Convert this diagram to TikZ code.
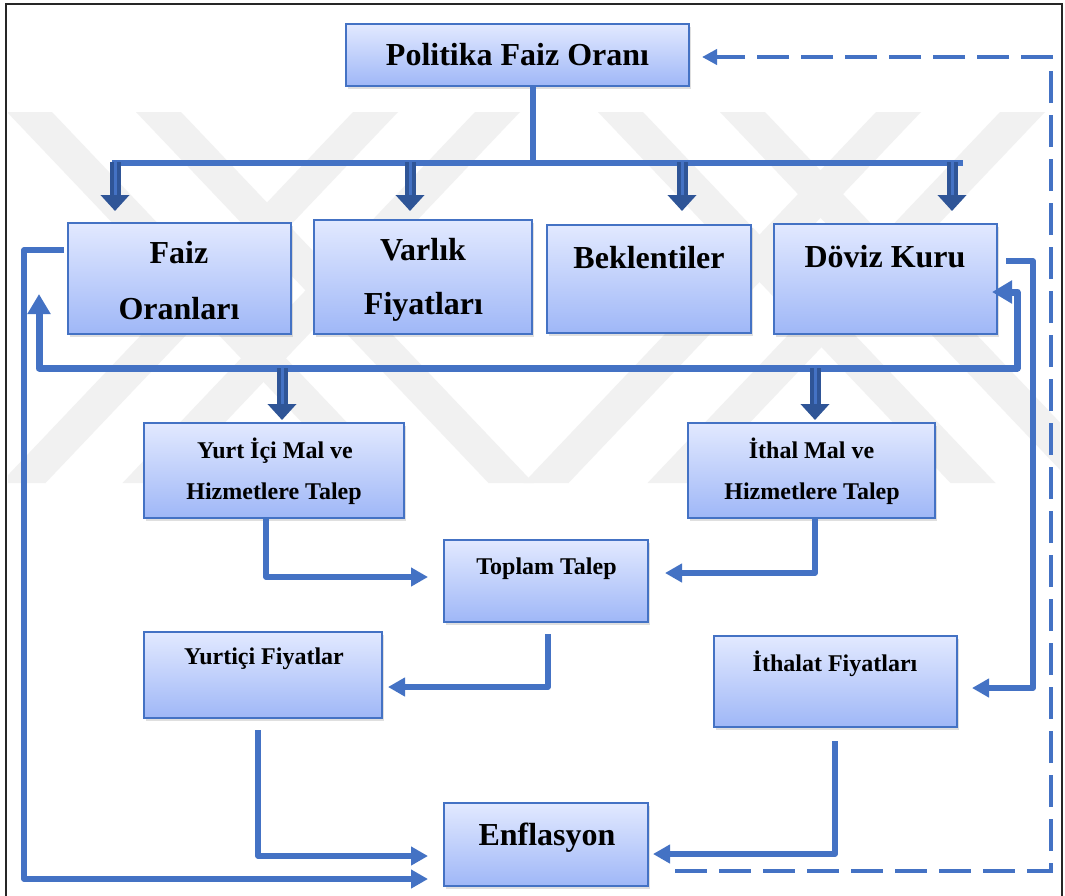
\documentclass[tikz,border=0pt]{standalone}
\usepackage{fontspec}
\setmainfont{Liberation Serif}
\usetikzlibrary{arrows.meta,shadows,calc}
\definecolor{lblue}{HTML}{4472C4}
\definecolor{dblue}{HTML}{2F5597}
\definecolor{ftop}{HTML}{E2E9FF}
\definecolor{fbot}{HTML}{9FB7F7}
\definecolor{wm}{HTML}{F1F1F1}
\tikzset{
  box/.style={draw=lblue, line width=2pt, top color=ftop, bottom color=fbot,
    drop shadow={shadow xshift=1.5pt, shadow yshift=-3pt, opacity=0.25},
    inner sep=0pt, outer sep=0pt},
  bigtxt/.style={font=\fontsize{32}{32}\selectfont\bfseries, inner sep=0pt, anchor=base},
  smalltxt/.style={font=\fontsize{24}{24}\selectfont\bfseries, inner sep=0pt, anchor=base},
  conn/.style={draw=lblue, line width=5.5pt, line join=round, -{Triangle[width=18pt,length=17pt]}},
  biconn/.style={draw=lblue, line width=7pt, line join=round, {Triangle[width=22pt,length=20pt]}-{Triangle[width=22pt,length=20pt]}},
  fatarr/.style={draw=dblue, line width=11pt, -{Triangle[width=28pt,length=16pt]}},
  fatin/.style={draw=lblue, line width=3pt},
  busline/.style={draw=lblue, line width=6pt},
  dashconn/.style={draw=lblue, line width=4pt, dash pattern=on 32pt off 12pt, -{Triangle[width=15pt,length=15pt]}},
  wmband/.style={fill=wm, draw=none},
}
\begin{document}
\begin{tikzpicture}[x=1pt,y=-1pt]
\useasboundingbox (0,0) rectangle (1065,895);
\clip (0,0) rectangle (1065,895);
\fill[white] (0,0) rectangle (1065,895);

% watermark
\begin{scope}
\clip (8,6) rectangle (1060,895);
\foreach \a in {7,136,598,720}{
  \fill[wmband] (\a,112) -- (\a+45,112) -- (\a+397.5,483) -- (\a+352.5,483) -- cycle;}
\foreach \a in {353,475,876,1000}{
  \fill[wmband] (\a,112) -- (\a+45,112) -- (\a-307.5,483) -- (\a-352.5,483) -- cycle;}
\end{scope}

% frame
\draw[black!85, line width=2.2pt] (6,900) -- (6,4) -- (1062,4) -- (1062,900);

% boxes
\node[box, minimum width=343pt, minimum height=62pt] (pfo) at (517.5,55) {};
\node[box, minimum width=223pt, minimum height=111pt] (faiz) at (179.5,278.5) {};
\node[box, minimum width=218pt, minimum height=114pt] (varlik) at (423,277) {};
\node[box, minimum width=204pt, minimum height=108pt] (bek) at (649,279) {};
\node[box, minimum width=223pt, minimum height=110pt] (doviz) at (885.5,279) {};
\node[box, minimum width=260pt, minimum height=95pt] (yurtici) at (274,470.5) {};
\node[box, minimum width=247pt, minimum height=95pt] (ithal) at (811.5,470.5) {};
\node[box, minimum width=204pt, minimum height=82pt] (toplam) at (546,581) {};
\node[box, minimum width=238pt, minimum height=86pt] (yfiy) at (263,675) {};
\node[box, minimum width=243pt, minimum height=91pt] (ifiy) at (835.5,681.5) {};
\node[box, minimum width=204pt, minimum height=83pt] (enf) at (546,844.5) {};

% texts
\node[bigtxt] (tpfo) at (517.5,65) {Politika Faiz Oranı};
\node[bigtxt] (tfaiz1) at (179,263) {Faiz};
\node[bigtxt] (tfaiz2) at (179,319) {Oranları};
\node[bigtxt] (tvar1) at (423,260) {Varlık};
\node[bigtxt] (tvar2) at (423.5,314) {Fiyatları};
\node[bigtxt] (tbek) at (649,268) {Beklentiler};
\node[bigtxt] (tdov) at (885,267) {Döviz Kuru};
\node[smalltxt] (tyi1) at (275,458) {Yurt İçi Mal ve};
\node[smalltxt] (tyi2) at (274,499) {Hizmetlere Talep};
\node[smalltxt] (tit1) at (811.5,458) {İthal Mal ve};
\node[smalltxt] (tit2) at (812,499) {Hizmetlere Talep};
\node[smalltxt] (ttop) at (546.5,574) {Toplam Talep};
\node[smalltxt] (tyf) at (264,664) {Yurtiçi Fiyatlar};
\node[smalltxt] (tif) at (835,671) {İthalat Fiyatları};
\node[bigtxt] (tenf) at (547,845) {Enflasyon};

% coordinates
\coordinate (b1) at (533,163);
\coordinate (b1l) at (112,163);
\coordinate (b1r) at (963,163);
\foreach \x/\n in {115/a1,410/a2,682/a3,952/a4}{
  \coordinate (\n s) at (\x,162);
  \coordinate (\n e) at (\x,211);
  \coordinate (\n m) at (\x,195);}
\coordinate (fbk) at (39,294);
\coordinate (dbk) at (992,292);
\coordinate (b2l) at (39,368);
\coordinate (b2r) at (1017,368);
\foreach \x/\n in {282/c1,815/c2}{
  \coordinate (\n s) at (\x,368);
  \coordinate (\n e) at (\x,420);
  \coordinate (\n m) at (\x,404);}

% top tree
\draw[busline] (pfo.south -| b1) -- (b1);
\draw[busline] (b1l) -- (b1r);
\foreach \n in {a1,a2,a3,a4}{
  \draw[fatarr] (\n s) -- (\n e);
  \draw[fatin] (\n s) -- (\n m);}

% second bus with feedback to Faiz and Döviz
\draw[biconn] (fbk) -- (b2l) -- (b2r |- b2l) -- (b2r |- dbk) -- (dbk);
\foreach \n in {c1,c2}{
  \draw[fatarr] (\n s) -- (\n e);
  \draw[fatin] (\n s) -- (\n m);}

% Faiz -> Enflasyon
\draw[conn] ($(faiz.west)+(-4,-28.5)$) -- (24,250) -- (24,879) -- ($(enf.west)+(-16,34.5)$);
% Doviz -> Ithalat Fiyatlari
\draw[conn] ($(doviz.east)+(9,-18)$) -- (1033,261) -- (1033,688) -- ($(ifiy.east)+(15,6.5)$);
% Yurt ici talep -> Toplam
\draw[conn] ($(yurtici.south)+(-8,0)$) -- (266,577) -- ($(toplam.west)+(-16,-4)$);
% Ithal talep -> Toplam
\draw[conn] ($(ithal.south)+(3.5,0)$) -- (815,573) -- ($(toplam.east)+(17,-8)$);
% Toplam -> Yurtici Fiyatlar
\draw[conn] ($(toplam.south)+(2,12)$) -- (548,687) -- ($(yfiy.east)+(6,12)$);
% Yurtici Fiyatlar -> Enflasyon
\draw[conn] ($(yfiy.south)+(-5,12)$) -- (258,856) -- ($(enf.west)+(-16,11.5)$);
% Ithalat Fiyatlari -> Enflasyon
\draw[conn] ($(ifiy.south)+(-0.5,14)$) -- (835,854) -- ($(enf.east)+(5,9.5)$);
% dashed feedback Enflasyon -> Politika Faiz Orani
\draw[dashconn] ($(enf.east)+(27,26.5)$) -- (1051,871) -- (1051,57) -- ($(pfo.east)+(13,2)$);
\end{tikzpicture}
\end{document}
